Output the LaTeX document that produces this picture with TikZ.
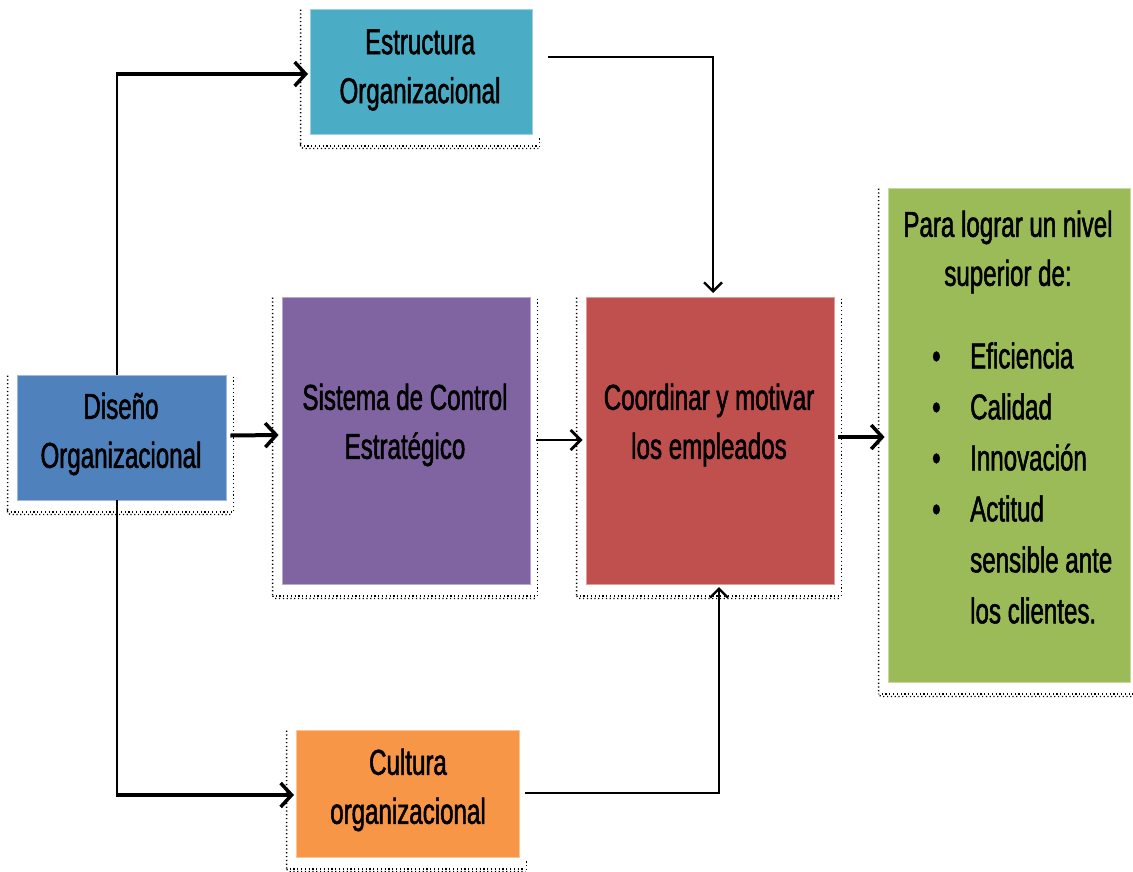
\documentclass[tikz,border=0pt]{standalone}
\usepackage{fontspec}
\setmainfont{Liberation Sans}[FakeStretch=0.67,FakeBold=1.4]
\usetikzlibrary{arrows.meta}
\definecolor{cteal}{HTML}{4BACC6}
\definecolor{cpurple}{HTML}{8064A2}
\definecolor{cred}{HTML}{C0504D}
\definecolor{cblue}{HTML}{4F81BD}
\definecolor{corange}{HTML}{F79646}
\definecolor{cgreen}{HTML}{9BBB59}
\begin{document}
\begin{tikzpicture}[x=1pt,y=-1pt,
  box/.style={draw=#1!55!white, line width=0.8pt, fill=#1, inner sep=0pt},
  txt/.style={font=\fontsize{36}{49}\selectfont, align=center, inner sep=0pt, text=black},
  frame/.style={draw=black, line width=1.3pt, dash pattern=on 1.2pt off 2.6pt},
  sparse/.style={draw=black, line width=1.3pt, dash pattern=on 1.2pt off 8pt},
  thickarr/.style={line width=4pt, -{Straight Barb[length=11pt,width=24pt,line width=3.5pt]}},
  midarr/.style={line width=2.6pt, -{Straight Barb[length=10pt,width=20pt,line width=2.8pt]}},
  thinarr/.style={line width=2.2pt, -{Straight Barb[length=9pt,width=18pt,line width=2.4pt]}},
  plain/.style={line width=2pt}
]
\useasboundingbox (0,0) rectangle (1133,871);

% boxes
\node[box=cteal,   minimum width=222pt, minimum height=125pt] (est) at (421,71.5) {};
\node[box=cpurple, minimum width=248pt, minimum height=287pt] (sis) at (406,440.5) {};
\node[box=cred,    minimum width=248pt, minimum height=287pt] (coo) at (710,440.5) {};
\node[box=cblue,   minimum width=209pt, minimum height=125pt] (dis) at (121.5,437.5) {};
\node[box=corange, minimum width=223pt, minimum height=127pt] (cul) at (407.5,793.5) {};
\node[box=cgreen,  minimum width=242pt, minimum height=494pt] (grn) at (1009,435) {};

% dotted frames (open at the top)
\foreach \n in {est,sis,coo,dis,cul,grn}{
  \draw[frame] ([xshift=-9pt,yshift=-1pt]\n.north west) -- ([xshift=-9pt,yshift=-12pt]\n.south west)
     [rounded corners=3pt] -- ([xshift=-9pt,yshift=-14pt]\n.south west) -- ([xshift=6pt,yshift=-14pt]\n.south east);
  \draw[frame] ([xshift=-6pt,yshift=-11.5pt]\n.south west) -- ([xshift=5pt,yshift=-11.5pt]\n.south east);
}
\foreach \n in {sis,coo,dis,grn}{
  \draw[frame] ([xshift=7pt,yshift=-2pt]\n.north east) -- ([xshift=7pt,yshift=-12pt]\n.south east);
}
\foreach \n in {est,cul}{
  \draw[frame] ([xshift=7pt,yshift=-4pt]\n.south east) -- ([xshift=7pt,yshift=-12pt]\n.south east);
}

% texts
\node[txt] (estT) at (420,70) {Estructura\\Organizacional};
\node[txt] (sisT) at (405,425) {Sistema de Control\\Estratégico};
\node[txt] (cooT) at (709,425) {Coordinar y motivar\\los empleados};
\node[txt] (disT) at (121,434) {Diseño\\Organizacional};
\node[txt] (culT) at (408,790) {Cultura\\organizacional};
\node[txt] (grnT) at (1008,252) {Para lograr un nivel\\superior de:};
\node[txt, align=left, anchor=west, font=\fontsize{36}{51}\selectfont] (grnL) at (932,483)
  {\makebox[38pt][l]{\textbullet}Eficiencia\\
   \makebox[38pt][l]{\textbullet}Calidad\\
   \makebox[38pt][l]{\textbullet}Innovación\\
   \makebox[38pt][l]{\textbullet}Actitud\\
   \hspace*{38pt}sensible ante\\
   \hspace*{38pt}los clientes.};

% connectors
\coordinate (d1) at (117,375);
\coordinate (d2) at (117,74);
\coordinate (d3) at (308,74);
\coordinate (d4) at (117,500);
\coordinate (d5) at (117,795);
\coordinate (d6) at (294,795);
\draw[plain] (d1) -- (d2);
\draw[thickarr] ([xshift=-1pt]d2) -- (d3);
\draw[plain] (d4) -- (d5);
\draw[thickarr] ([xshift=-1pt]d5) -- (d6);

\draw[thickarr] ([xshift=4pt,yshift=2pt]dis.east) -- ([xshift=-3pt]sis.west |- 0,435);
\draw[midarr] ([xshift=6pt]sis.east |- 0,440) -- ([xshift=-3pt]coo.west |- 0,440);
\draw[thickarr] ([xshift=4pt]coo.east |- 0,437) -- ([xshift=-3pt]grn.west |- 0,437);

\coordinate (e1) at (548,57);
\coordinate (e2) at (713,293);
\draw[thinarr] (e1) -| (e2);
\coordinate (c1) at (525,793);
\coordinate (c2) at (719,587);
\draw[thinarr] (c1) -| (c2);
\end{tikzpicture}
\end{document}
